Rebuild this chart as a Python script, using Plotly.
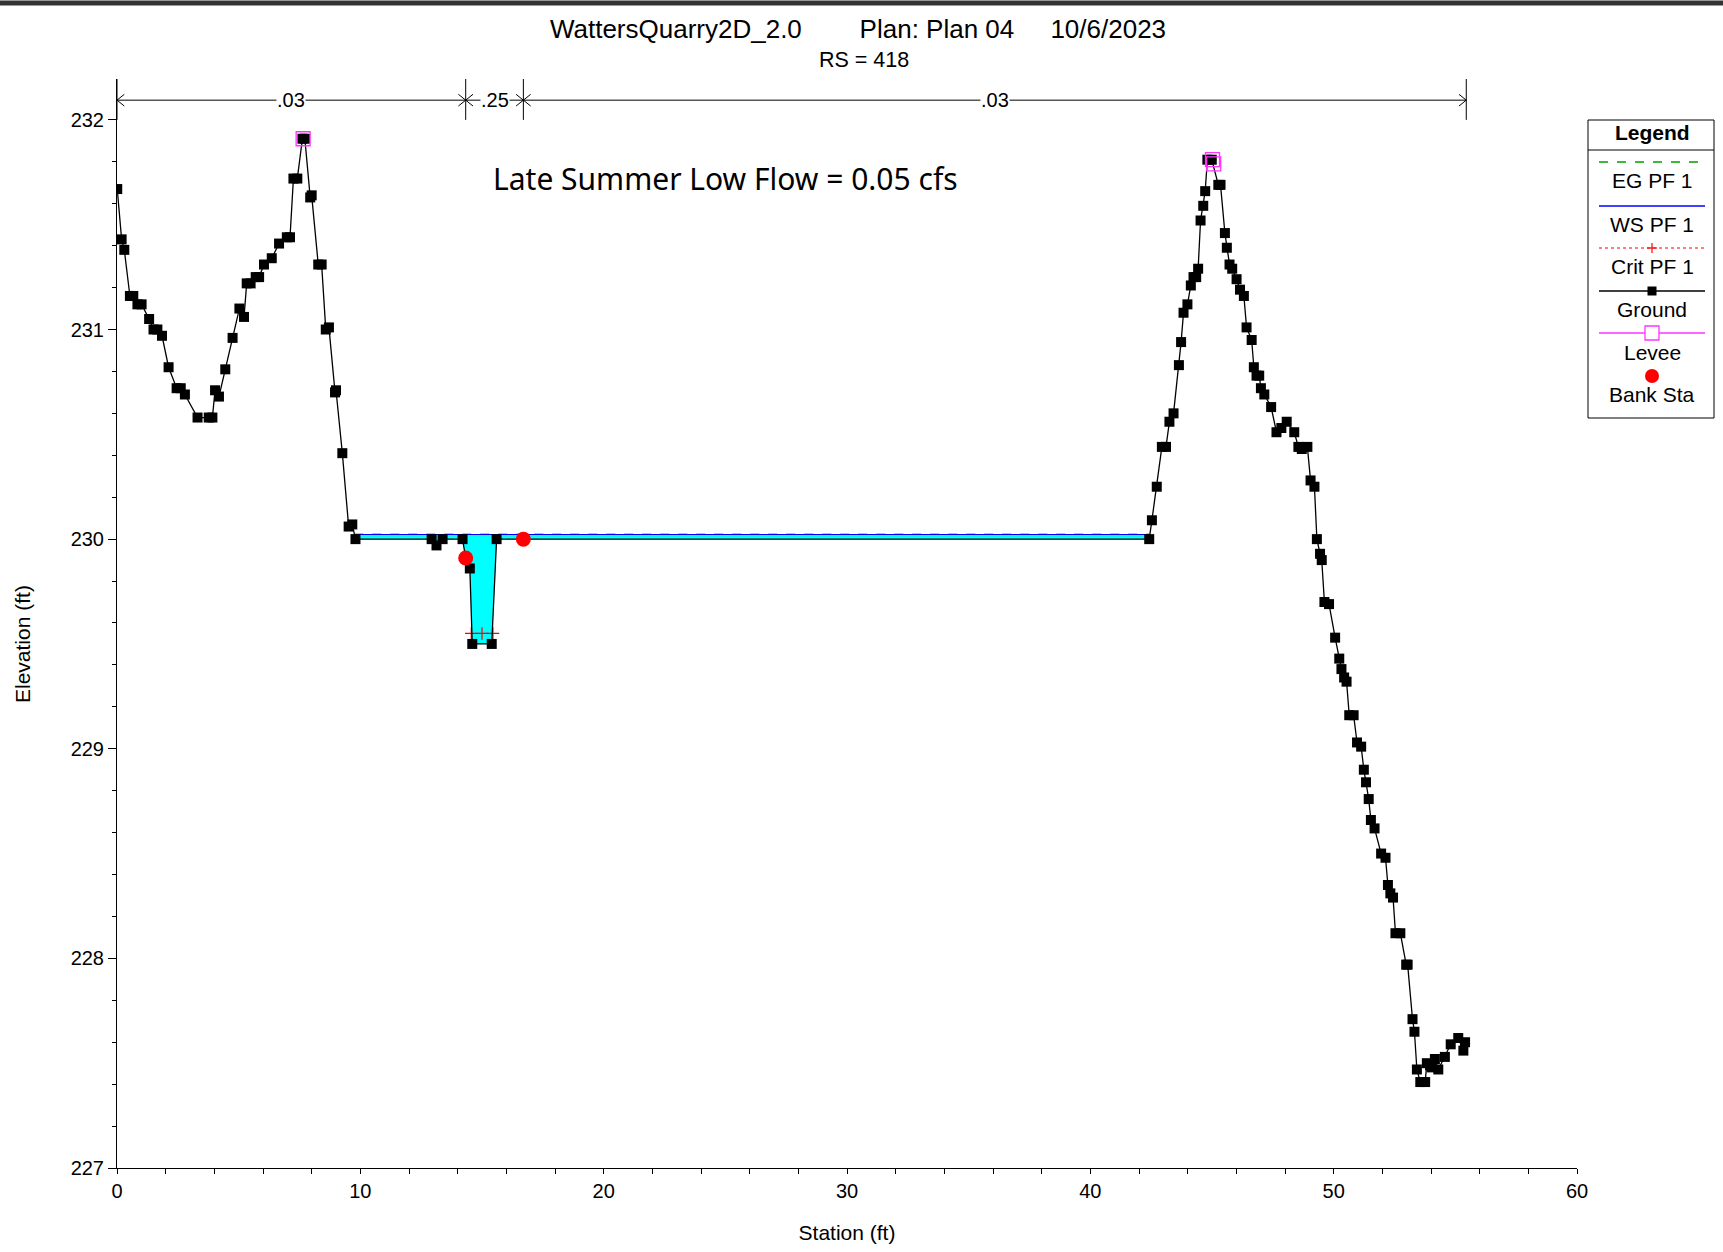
import plotly.graph_objects as go
import numpy as np

# ground profile (station ft, elevation ft)
station = [
    0.01, 0.19, 0.30, 0.53, 0.67, 0.84, 1.01, 1.32, 1.50, 1.66, 1.85, 2.12, 2.45,
    2.62, 2.79, 3.31, 3.77, 3.92, 4.03, 4.19, 4.45, 4.75, 5.03, 5.22, 5.33, 5.49,
    5.70, 5.84, 6.04, 6.36, 6.66, 6.98, 7.11, 7.25, 7.41, 7.62, 7.72, 7.94, 8.00,
    8.27, 8.41, 8.58, 8.71, 8.96, 9.00, 9.26, 9.52, 9.67, 9.80, 12.93, 13.13,
    13.38, 14.20, 14.33, 14.50, 14.60, 15.40, 15.60, 42.42, 42.53, 42.73, 42.94,
    43.11, 43.25, 43.42, 43.64, 43.73, 43.83, 43.99, 44.13, 44.24, 44.35, 44.43,
    44.53, 44.64, 44.72, 44.81, 44.99, 45.26, 45.35, 45.53, 45.61, 45.72, 45.83,
    46.01, 46.15, 46.31, 46.42, 46.63, 46.72, 46.83, 46.94, 47.01, 47.15, 47.43,
    47.65, 47.85, 48.07, 48.38, 48.55, 48.69, 48.92, 49.05, 49.21, 49.31, 49.44,
    49.51, 49.62, 49.81, 50.06, 50.23, 50.32, 50.43, 50.53, 50.64, 50.82, 50.96,
    51.13, 51.24, 51.33, 51.44, 51.53, 51.68, 51.95, 52.13, 52.23, 52.33, 52.44,
    52.54, 52.74, 52.98, 53.04, 53.24, 53.32, 53.42, 53.56, 53.76, 53.83, 53.96,
    54.03, 54.16, 54.30, 54.57, 54.81, 55.12, 55.33, 55.40,
]
elevation = [
    231.67, 231.43, 231.38, 231.16, 231.16, 231.12, 231.12, 231.05, 231.00, 231.00,
    230.97, 230.82, 230.72, 230.72, 230.69, 230.58, 230.58, 230.58, 230.71, 230.68,
    230.81, 230.96, 231.10, 231.06, 231.22, 231.22, 231.25, 231.25, 231.31, 231.34,
    231.41, 231.44, 231.44, 231.72, 231.72, 231.91, 231.91, 231.63, 231.64, 231.31,
    231.31, 231.00, 231.01, 230.70, 230.71, 230.41, 230.06, 230.07, 230.00, 230.00,
    229.97, 230.00, 230.00, 229.91, 229.86, 229.50, 229.50, 230.00, 230.00, 230.09,
    230.25, 230.44, 230.44, 230.56, 230.60, 230.83, 230.94, 231.08, 231.12, 231.21,
    231.25, 231.25, 231.29, 231.52, 231.59, 231.66, 231.81, 231.81, 231.69, 231.69,
    231.46, 231.39, 231.31, 231.29, 231.24, 231.19, 231.16, 231.01, 230.95, 230.82,
    230.78, 230.78, 230.72, 230.69, 230.63, 230.51, 230.53, 230.56, 230.51, 230.44,
    230.43, 230.44, 230.28, 230.25, 230.00, 229.93, 229.90, 229.70, 229.69, 229.53,
    229.43, 229.38, 229.34, 229.32, 229.16, 229.16, 229.03, 229.01, 228.90, 228.84,
    228.76, 228.66, 228.62, 228.50, 228.48, 228.35, 228.31, 228.29, 228.12, 228.12,
    227.97, 227.97, 227.71, 227.65, 227.47, 227.41, 227.41, 227.50, 227.49, 227.48,
    227.52, 227.47, 227.53, 227.59, 227.62, 227.56, 227.60,
]

ws_elev = 230.022
eg_elev = 230.024
ws_left, ws_right = 9.75, 42.44
crit_elev = 229.55
crit_sta = [14.56, 15.0, 15.45]
bank_sta = [14.33, 16.7]
bank_elev = [229.91, 230.0]
levee_sta = [7.65, 45.02, 45.07]
levee_elev = [231.91, 231.81, 231.79]
n_sta = [0.0, 14.33, 16.7, 55.45]
n_val = [".03", ".25", ".03"]
n_elev = 232.094

FONT = "Liberation Sans, Arial, sans-serif"

# figure pixel layout
W, H = 1723, 1252
L, R, T, B = 117, 146, 79, 84


def px(x):
    return (x - L) / (W - L - R)


def py(y):
    return (H - B - y) / (H - T - B)


sta = np.array(station)
elev = np.array(elevation)

fig = go.Figure()

# water fill between ground and water surface
inside = (sta > ws_left) & (sta < ws_right)
wx = [ws_left, ws_right] + list(sta[inside][::-1])
wy = [ws_elev, ws_elev] + list(elev[inside][::-1])
fig.add_trace(go.Scatter(x=wx, y=wy, fill="toself", fillcolor="#00FFFF",
                         line=dict(width=0), mode="lines", hoverinfo="skip"))

fig.add_trace(go.Scatter(x=[ws_left, ws_right], y=[eg_elev, eg_elev], mode="lines",
                         line=dict(color="rgb(0,160,0)", width=1, dash="dash")))
fig.add_trace(go.Scatter(x=[ws_left, ws_right], y=[ws_elev, ws_elev], mode="lines",
                         line=dict(color="blue", width=1)))
fig.add_trace(go.Scatter(x=crit_sta, y=[crit_elev] * len(crit_sta), mode="lines+markers",
                         line=dict(color="red", width=1, dash="dot"),
                         marker=dict(symbol="cross-thin-open", size=9, color="red",
                                     line=dict(color="red", width=1.2))))
fig.add_trace(go.Scatter(x=station, y=elevation, mode="lines+markers",
                         line=dict(color="black", width=1.3),
                         marker=dict(symbol="square", size=10, color="black")))
fig.add_trace(go.Scatter(x=levee_sta, y=levee_elev, mode="markers",
                         marker=dict(symbol="square-open", size=14, color="#FF33FF",
                                     line=dict(color="#FF33FF", width=1.3))))
fig.add_trace(go.Scatter(x=bank_sta, y=bank_elev, mode="markers",
                         marker=dict(symbol="circle", size=15, color="red")))

# Manning's n bars across the top
dx, dy = 0.3, 0.028
vx, vy = [], []
for s in n_sta:
    vx += [s, s, None]
    vy += [232.0, 232.2, None]
hx, hy = [], []
for a, b in zip(n_sta[:-1], n_sta[1:]):
    hx += [a, b, None, a + dx, a, a + dx, None, b - dx, b, b - dx, None]
    hy += [n_elev, n_elev, None, n_elev + dy, n_elev, n_elev - dy, None,
           n_elev + dy, n_elev, n_elev - dy, None]
fig.add_trace(go.Scatter(x=vx + hx, y=vy + hy, mode="lines",
                         line=dict(color="black", width=1), hoverinfo="skip"))

annotations = []
for a, b, v in zip(n_sta[:-1], n_sta[1:], n_val):
    annotations.append(dict(x=(a + b) / 2, y=n_elev, text=v, showarrow=False,
                            bgcolor="white", borderpad=0,
                            font=dict(family=FONT, size=20, color="black")))

annotations.append(dict(x=25.0, y=231.72, text="Late Summer Low Flow = 0.05 cfs",
                        showarrow=False,
                        font=dict(family="Noto Sans, Open Sans, sans-serif", size=30,
                                  color="black")))
annotations.append(dict(xref="paper", yref="paper", x=px(864), y=py(60),
                        xanchor="center", yanchor="middle",
                        text="RS = 418", showarrow=False,
                        font=dict(family=FONT, size=21.5, color="black")))
# y axis title (sits a little below the axis centre in the original)
annotations.append(dict(xref="paper", yref="paper", x=px(22), y=py(644),
                        xanchor="center", yanchor="middle", textangle=-90,
                        text="Elevation (ft)", showarrow=False,
                        font=dict(family=FONT, size=21, color="black")))


def note(x, y, text):
    return dict(xref="paper", yref="paper", x=px(x), y=py(y), text=text,
                xanchor="center", yanchor="middle", showarrow=False,
                font=dict(family=FONT, size=21, color="black"))


# custom HEC-RAS style legend
shapes = [
    dict(type="line", xref="paper", yref="paper", x0=px(0), x1=px(W), y0=py(3), y1=py(3),
         line=dict(color="#333333", width=5)),
    dict(type="rect", xref="paper", yref="paper", x0=px(1588), x1=px(1714),
         y0=py(120), y1=py(418), line=dict(color="black", width=1), fillcolor="white"),
    dict(type="line", xref="paper", yref="paper", x0=px(1588), x1=px(1714),
         y0=py(150), y1=py(150), line=dict(color="black", width=1)),
]
lx0, lx1, lc = px(1599), px(1705), 1652
legend_items = [
    ("EG PF 1", 162, 181, dict(color="rgb(0,160,0)", width=1.3, dash="dash")),
    ("WS PF 1", 206, 224, dict(color="blue", width=1.5)),
    ("Crit PF 1", 248, 266, dict(color="red", width=1, dash="dot")),
    ("Ground", 291, 309, dict(color="black", width=1.3)),
    ("Levee", 333, 352, dict(color="#FF33FF", width=1.3)),
]
for name, ly, ty, ln in legend_items:
    shapes.append(dict(type="line", xref="paper", yref="paper", x0=lx0, x1=lx1,
                       y0=py(ly), y1=py(ly), line=ln))
    annotations.append(note(lc, ty, name))
# legend symbols
shapes += [
    dict(type="line", xref="paper", yref="paper", x0=px(lc - 5), x1=px(lc + 5),
         y0=py(248), y1=py(248), line=dict(color="red", width=1.2)),
    dict(type="line", xref="paper", yref="paper", x0=px(lc), x1=px(lc),
         y0=py(243), y1=py(253), line=dict(color="red", width=1.2)),
    dict(type="rect", xref="paper", yref="paper", x0=px(lc - 4.5), x1=px(lc + 4.5),
         y0=py(286.5), y1=py(295.5), line=dict(width=0), fillcolor="black"),
    dict(type="rect", xref="paper", yref="paper", x0=px(lc - 7), x1=px(lc + 7),
         y0=py(326), y1=py(340), line=dict(color="#FF33FF", width=1.3), fillcolor="white"),
    dict(type="circle", xref="paper", yref="paper", x0=px(lc - 7), x1=px(lc + 7),
         y0=py(369), y1=py(383), line=dict(width=0), fillcolor="red"),
]
annotations.append(note(lc, 394, "Bank Sta"))
annotations.append(note(lc, 133, "<b>Legend</b>"))

sp = "\u00a0"
fig.update_layout(
    width=W, height=H,
    margin=dict(l=L, r=R, t=T, b=B, autoexpand=False),
    paper_bgcolor="white", plot_bgcolor="white",
    showlegend=False,
    title=dict(text="WattersQuarry2D_2.0" + sp * 8 + "Plan: Plan 04" + sp * 5 + "10/6/2023",
               x=858 / W, xanchor="center", y=1 - 29 / H, yanchor="middle",
               font=dict(family=FONT, size=26, color="black")),
    xaxis=dict(range=[0, 60], dtick=10, ticks="outside", ticklen=5, tickcolor="black",
               showline=True, linecolor="black", linewidth=1, showgrid=False, zeroline=False,
               minor=dict(dtick=2, ticks="outside", ticklen=5, tickcolor="black"),
               tickfont=dict(family=FONT, size=20, color="black"),
               title=dict(text="Station (ft)", standoff=24,
                          font=dict(family=FONT, size=21, color="black"))),
    yaxis=dict(range=[227, 232.195], dtick=1, ticks="outside", ticklen=8, tickcolor="black",
               showline=True, linecolor="black", linewidth=1, showgrid=False, zeroline=False,
               minor=dict(dtick=0.2, ticks="outside", ticklen=4, tickcolor="black"),
               tickfont=dict(family=FONT, size=20, color="black")),
    shapes=shapes,
    annotations=annotations,
)

fig.write_html("out.html", config={"displayModeBar": False},
               post_script="document.body.style.margin='0';")
